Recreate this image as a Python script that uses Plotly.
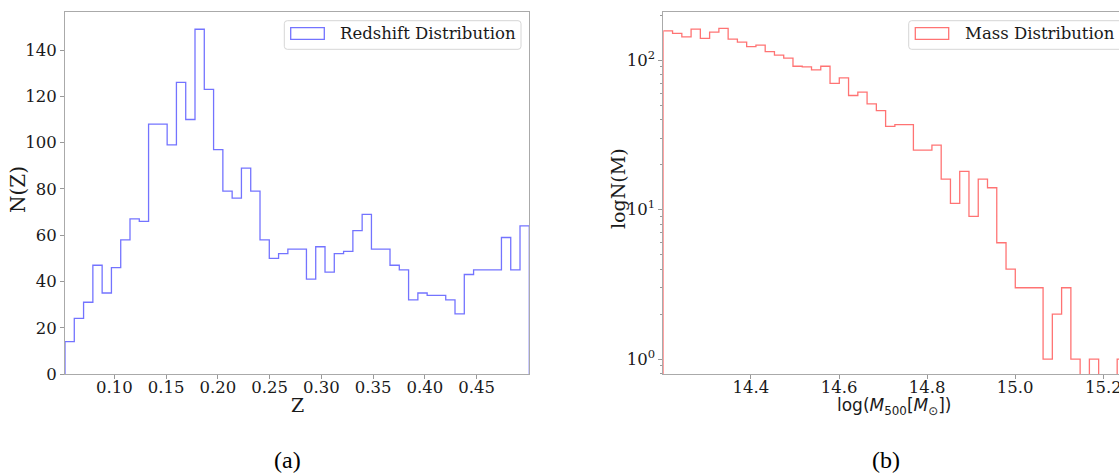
import numpy as np
import plotly.graph_objects as go

# ---------------- data ----------------
z_min, z_max = 0.0524, 0.5008
z_counts = [14, 24, 31, 47, 35, 46, 58, 67, 66, 108,
            108, 99, 126, 110, 149, 123, 97, 79, 76, 89,
            79, 58, 50, 52, 54, 54, 41, 55, 44, 52,
            53, 62, 69, 54, 54, 47, 45, 32, 35, 34,
            34, 32, 26, 43, 45, 45, 45, 59, 45, 64]
z_ticks = [0.10, 0.15, 0.20, 0.25, 0.30, 0.35, 0.40, 0.45]
n_ticks = [0, 20, 40, 60, 80, 100, 120, 140]

m_min, m_max = 14.201, 15.2525
m_counts = [157, 151, 143, 161, 140, 154, 163, 138, 132, 123,
            126, 114, 108, 103, 91, 90, 86, 91, 70, 76,
            58, 61, 51, 46, 36, 37, 37, 25, 25, 27,
            16, 11, 18, 9, 16, 14, 6, 4, 3, 3,
            3, 1, 2, 3, 1, 0, 1, 0, 0, 1]
m_ticks = [14.4, 14.6, 14.8, 15.0, 15.2]
logn_ticks = [1, 10, 100]
logn_ticktext = ["10<sup>0</sup>", "10<sup>1</sup>", "10<sup>2</sup>"]

z_label = "Redshift Distribution"
m_label = "Mass Distribution"

# ---------------- helpers ----------------
W, H = 1119, 473
def px(x):
    return x / W
def py(y):
    return 1 - y / H

def step_xy(lo, hi, counts, floor=0.0):
    c = np.asarray(counts, dtype=float)
    edges = np.linspace(lo, hi, len(c) + 1)
    c = np.where(c > 0, c, floor)
    xs = np.concatenate([[edges[0]], edges[:-1], [edges[-1], edges[-1]]])
    ys = np.concatenate([[floor], c, [c[-1], floor]])
    return xs, ys

BLUE = "rgba(0,0,255,0.55)"
RED = "rgba(255,0,0,0.55)"
SPINE = "#aaaaaa"
SERIF = "DejaVu Serif"
SANS = "DejaVu Sans"
TXT = "#1a1a1a"

fig = go.Figure()
zx, zy = step_xy(z_min, z_max, z_counts, 0.0)
fig.add_trace(go.Scatter(x=zx, y=zy, mode="lines", line=dict(color=BLUE, width=1.3, shape="hv"),
                         name=z_label, showlegend=False, xaxis="x", yaxis="y"))
mx, my = step_xy(m_min, m_max, m_counts, 0.01)
fig.add_trace(go.Scatter(x=mx, y=my, mode="lines", line=dict(color=RED, width=1.3, shape="hv"),
                         name=m_label, showlegend=False, xaxis="x2", yaxis="y2"))

axis_common = dict(showgrid=False, zeroline=False, showline=True, linecolor=SPINE, linewidth=1,
                   ticks="outside", ticklen=4, tickwidth=1, tickcolor="#999999", automargin=False,
                   ticklabeloverflow="allow",
                   tickfont=dict(family=SERIF, size=16.5, color=TXT))

fig.update_layout(
    width=W, height=H, margin=dict(l=0, r=0, t=0, b=0, autoexpand=False),
    paper_bgcolor="white", plot_bgcolor="white", showlegend=False,
    xaxis=dict(domain=[px(65), px(529.3)], range=[z_min, z_max], tickvals=z_ticks,
               tickformat=".2f", mirror=True, anchor="y", ticklabelstandoff=-6, **axis_common),
    yaxis=dict(domain=[py(374), py(12)], range=[0, 156.45], tickvals=n_ticks,
               mirror=True, anchor="x", **axis_common),
    xaxis2=dict(domain=[px(663.3), 1.0], range=[m_min, 15.2356], tickvals=m_ticks,
                tickformat=".1f", mirror=True, anchor="y2", ticklabelstandoff=-6, **axis_common),
    yaxis2=dict(domain=[py(374), py(12)], type="log", range=[-0.1, 2.322],
                tickvals=logn_ticks, ticktext=logn_ticktext, mirror=False, anchor="x2",
                minor=dict(ticks="outside", ticklen=2, dtick="D1", tickcolor="#999999"),
                **axis_common),
)

def rounded_rect(x0, y0, x1, y1, r=3):
    rx, ry = r / W, r / H
    X0, X1, Y0, Y1 = px(x0), px(x1), py(y1), py(y0)  # Y0 bottom, Y1 top
    return (f"M {X0+rx},{Y0} L {X1-rx},{Y0} Q {X1},{Y0} {X1},{Y0+ry} "
            f"L {X1},{Y1-ry} Q {X1},{Y1} {X1-rx},{Y1} L {X0+rx},{Y1} "
            f"Q {X0},{Y1} {X0},{Y1-ry} L {X0},{Y0+ry} Q {X0},{Y0} {X0+rx},{Y0} Z")

shapes = []
annotations = []
for (bx0, bx1, ix0, ix1, tx, color, label) in [
        (284.3, 521.0, 290.7, 324.3, 337.7, BLUE, z_label),
        (908.7, 1135.0, 915.3, 948.7, 962.7, RED, m_label)]:
    shapes.append(dict(type="path", xref="paper", yref="paper", path=rounded_rect(bx0, 20.7, bx1, 49.3),
                       line=dict(color="#d6d6d6", width=1), fillcolor="rgba(255,255,255,0.8)"))
    shapes.append(dict(type="rect", xref="paper", yref="paper", x0=px(ix0), x1=px(ix1),
                       y0=py(39.3), y1=py(27.7), line=dict(color=color, width=1.3),
                       fillcolor="rgba(0,0,0,0)"))
    annotations.append(dict(xref="paper", yref="paper", x=px(tx), y=py(33.8), xanchor="left",
                            yanchor="middle", showarrow=False, text=label,
                            font=dict(family=SERIF, size=16.5, color=TXT)))

annotations += [
    dict(xref="paper", yref="paper", x=px(297), y=py(405), text="Z", showarrow=False,
         xanchor="center", yanchor="middle", font=dict(family=SERIF, size=19, color=TXT)),
    dict(xref="paper", yref="paper", x=px(894), y=py(406),
         text="log(<i>M</i><sub>500</sub>[<i>M</i><sub>⊙</sub>])", showarrow=False,
         xanchor="center", yanchor="middle", font=dict(family=SANS, size=17, color=TXT)),
    dict(xref="paper", yref="paper", x=px(18), y=py(190), text="N(Z)", textangle=-90, showarrow=False,
         xanchor="center", yanchor="middle", font=dict(family=SERIF, size=20, color=TXT)),
    dict(xref="paper", yref="paper", x=px(618), y=py(189), text="logN(M)", textangle=-90, showarrow=False,
         xanchor="center", yanchor="middle", font=dict(family=SERIF, size=19, color=TXT)),
    dict(xref="paper", yref="paper", x=px(287.5), y=py(460), text="(a)", showarrow=False,
         xanchor="center", yanchor="middle", font=dict(family="Liberation Serif", size=24, color="black")),
    dict(xref="paper", yref="paper", x=px(886), y=py(460), text="(b)", showarrow=False,
         xanchor="center", yanchor="middle", font=dict(family="Liberation Serif", size=24, color="black")),
]
fig.update_layout(shapes=shapes, annotations=annotations)

fig.write_html("out.html")
